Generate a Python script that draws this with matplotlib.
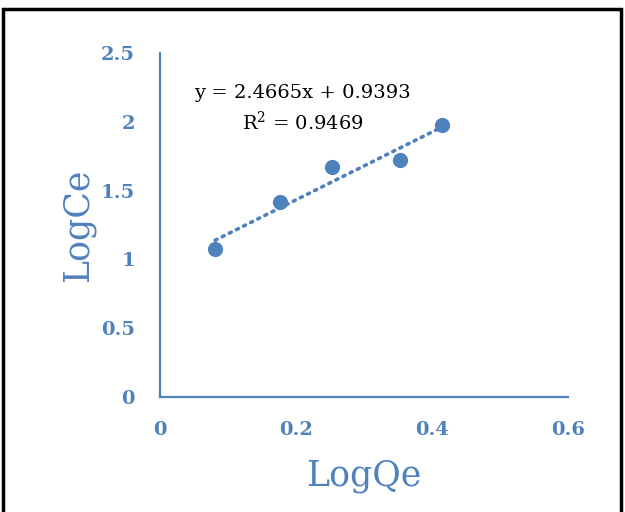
import matplotlib
matplotlib.use('Agg')
import matplotlib.pyplot as plt
import numpy as np
from matplotlib.patches import Rectangle

log_qe = [0.081, 0.176, 0.253, 0.353, 0.415]
log_ce = [1.076, 1.417, 1.672, 1.722, 1.977]
slope = 2.4665
intercept = 0.9393
r2 = 0.9469

blue = '#4F81BD'

fig = plt.figure(figsize=(6.25, 5.12), dpi=100)
ax = fig.add_axes([0.256, 0.2246, 0.653, 0.672])

x_fit = np.array([min(log_qe), max(log_qe)])
ax.plot(x_fit, slope * x_fit + intercept, linestyle=(0, (0.6, 1.6)), color=blue,
        linewidth=2.6, dash_capstyle='round', zorder=2)
ax.scatter(log_qe, log_ce, s=120, color=blue, zorder=3, linewidths=0)

ax.set_xlim(0, 0.6)
ax.set_ylim(0, 2.5)
ax.set_xticks([0, 0.2, 0.4, 0.6])
ax.set_xticklabels(['0', '0.2', '0.4', '0.6'])
ax.set_yticks([0, 0.5, 1, 1.5, 2, 2.5])
ax.set_yticklabels(['0', '0.5', '1', '1.5', '2', '2.5'])
for s in ['top', 'right']:
    ax.spines[s].set_visible(False)
for s in ['left', 'bottom']:
    ax.spines[s].set_color(blue)
    ax.spines[s].set_linewidth(1.6)
ax.tick_params(length=0, colors=blue, labelsize=14)
ax.tick_params(axis='x', pad=17)
ax.tick_params(axis='y', pad=18)
for lab in ax.get_xticklabels() + ax.get_yticklabels():
    lab.set_fontweight('bold')
    lab.set_family('DejaVu Serif')

ax.set_xlabel('LogQe', fontsize=25, color=blue, family='DejaVu Serif', labelpad=15)
ax.set_ylabel('LogCe', fontsize=25, color=blue, family='DejaVu Serif', labelpad=4)

ax.text(0.21, 2.09, 'y = %.4fx + %.4f\nR$^2$ = %.4f' % (slope, intercept, r2),
        fontsize=14, family='DejaVu Serif', ha='center', va='center',
        linespacing=1.45, math_fontfamily='dejavuserif')

fig.patches.append(Rectangle((0.004, -0.01), 0.99, 0.993, transform=fig.transFigure,
                             fill=False, edgecolor='black', linewidth=2.5))

plt.savefig('out.png', dpi=100)
